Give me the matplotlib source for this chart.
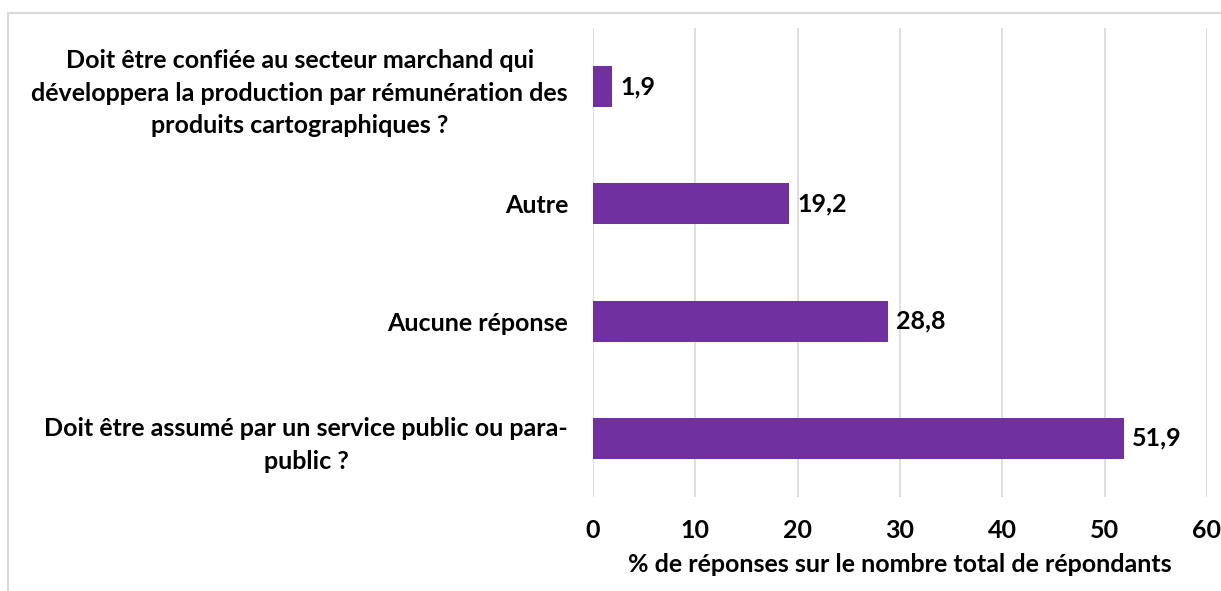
import matplotlib.pyplot as plt
from matplotlib.patches import Rectangle

plt.rcParams['font.family'] = ['Lato', 'DejaVu Sans']
plt.rcParams['font.weight'] = 'bold'

categories = [
    "Doit être assumé par un service public ou para-\npublic ?",
    "Aucune réponse",
    "Autre",
    "Doit être confiée au secteur marchand qui\ndéveloppera la production par rémunération des\nproduits cartographiques ?",
]
values = [51.9, 28.8, 19.2, 1.9]
value_labels = ["51,9", "28,8", "19,2", "1,9"]
xticks = [0, 10, 20, 30, 40, 50, 60]

fig = plt.figure(figsize=(12.21, 5.91), dpi=100)
ax = fig.add_axes([0.4857, 0.1591, 0.5028, 0.7935])

# cadre gris autour du graphique
fig.patches.append(Rectangle((8 / 1221, -0.01), 1.02, 1 - 13 / 591 + 0.01,
                             transform=fig.transFigure, fill=False,
                             edgecolor='#D9D9D9', linewidth=1.5))

ypos = list(range(len(categories)))
ax.barh(ypos, values, height=0.35, color='#7030A0')
for y, v, lab in zip(ypos, values, value_labels):
    ax.text(v + 0.8, y, lab, va='center', ha='left', fontsize=18, fontweight='bold')

ax.set_xlim(0, 60)
ax.set_ylim(-0.5, 3.5)
ax.set_xticks(xticks)
ax.set_yticks(ypos)
ax.set_yticklabels(categories, fontsize=18, fontweight='bold',
                   multialignment='center', linespacing=1.5)
ax.tick_params(axis='both', length=0)
ax.tick_params(axis='y', pad=18)
ax.tick_params(axis='x', pad=16, labelsize=18)
ax.grid(axis='x', color='#D9D9D9', linewidth=1.2)
ax.set_axisbelow(True)
for s in ax.spines.values():
    s.set_visible(False)
ax.set_xlabel('% de réponses sur le nombre total de répondants', fontsize=18,
              fontweight='bold', labelpad=8)

plt.savefig("out.png", dpi=100)
